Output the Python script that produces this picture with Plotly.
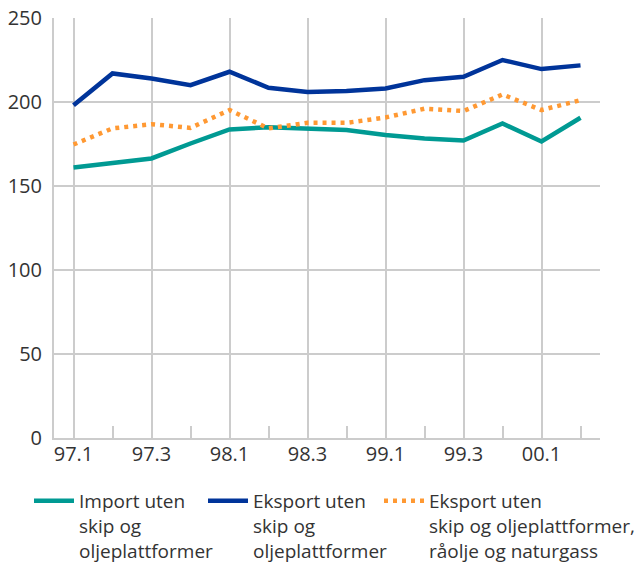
"""Import and export volume indices, 1997-2000."""

import plotly.graph_objects as go

quarters = ["97.1", "97.2", "97.3", "97.4", "98.1", "98.2", "98.3", "98.4",
            "99.1", "99.2", "99.3", "99.4", "00.1", "00.2"]

import_uten = [161, 163.6, 166.4, 175.3, 183.7, 184.9, 184, 183.3,
               180.3, 178.3, 177.1, 187.2, 176.5, 190.6]
eksport_uten = [198, 217, 214, 210, 218, 208.5, 206, 206.5,
                208, 213, 215, 225, 219.6, 221.8]
eksport_uten_olje = [174.7, 184.3, 186.8, 184.6, 195.2, 184.3, 187.6, 187.6,
                     190.8, 196, 194.6, 204.5, 195.2, 201.1]

y_ticks = [0, 50, 100, 150, 200, 250]

series = [
    ("Import uten<br>skip og<br>oljeplattformer", import_uten, "#009a93", "solid"),
    ("Eksport uten<br>skip og<br>oljeplattformer", eksport_uten, "#00349a", "solid"),
    ("Eksport uten<br>skip og oljeplattformer,<br>råolje og naturgass",
     eksport_uten_olje, "#ff9933", "4px,5px"),
]

x = list(range(len(quarters)))
legend_ids = ["legend", "legend2", "legend3"]
legend_x = [21, 195, 371]

fig = go.Figure()
for (name, values, color, dash), leg in zip(series, legend_ids):
    fig.add_trace(
        go.Scatter(
            x=x,
            y=values,
            name=name,
            mode="lines",
            legend=leg,
            showlegend=True,
            line={"color": color, "width": 4.5, "dash": dash},
        )
    )

grid = "#cccccc"
fig.update_layout(
    width=642,
    height=562,
    margin={"l": 46, "r": 50, "t": 10, "b": 132},
    plot_bgcolor="white",
    paper_bgcolor="white",
    font={"family": "Open Sans, Noto Sans, sans-serif", "size": 20, "color": "#333333"},
)
for leg, lx in zip(legend_ids, legend_x):
    fig.update_layout({
        leg: {
            "orientation": "h",
            "xref": "container",
            "yref": "container",
            "x": lx / 642,
            "y": 1 - 474 / 562,
            "xanchor": "left",
            "yanchor": "top",
            "font": {"size": 19, "color": "#333333"},
            "itemwidth": 40,
            "valign": "top",
            "bgcolor": "rgba(255,255,255,0)",
        }
    })

fig.update_xaxes(
    range=[-0.5, len(quarters) - 0.5],
    tickmode="array",
    tickvals=x[::2],
    ticktext=quarters[::2],
    showgrid=True,
    gridcolor=grid,
    gridwidth=2,
    showline=True,
    linecolor=grid,
    linewidth=2,
    ticks="",
    zeroline=False,
    automargin=False,
    ticklabelstandoff=-3,
    minor={"tickmode": "linear", "tick0": 0, "dtick": 1, "ticks": "inside",
           "ticklen": 12, "tickwidth": 2, "tickcolor": grid, "showgrid": False},
)
fig.update_yaxes(
    range=[0, 250],
    tickvals=y_ticks,
    showgrid=True,
    gridcolor=grid,
    gridwidth=2,
    showline=True,
    linecolor=grid,
    linewidth=2,
    zeroline=False,
    ticks="",
    automargin=False,
    ticklabelstandoff=6,
    ticklabeloverflow="allow",
)

fig.write_html("out.html")
